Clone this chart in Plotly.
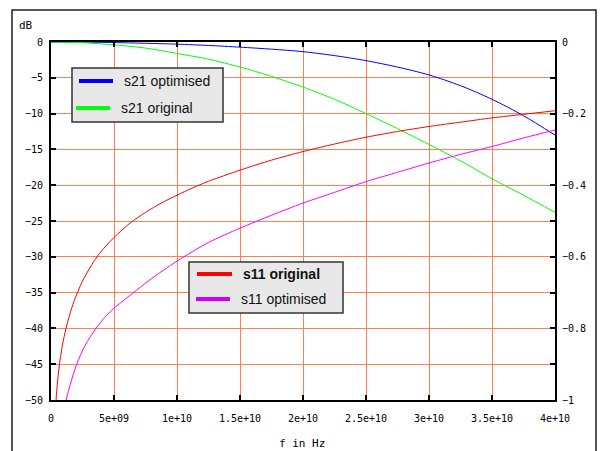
import plotly.graph_objects as go

# ---------------- data ----------------
f_s21 = [0, 2.5e9, 5e9, 7.5e9, 1e10, 1.25e10, 1.5e10, 1.75e10, 2e10, 2.25e10,
         2.5e10, 2.75e10, 3e10, 3.25e10, 3.5e10, 3.75e10, 4e10]
s21_optimised = [0, -0.02, -0.08, -0.18, -0.3, -0.48, -0.72, -1.0, -1.35, -1.9,
                 -2.6, -3.5, -4.6, -6.1, -8.0, -10.3, -13.0]
s21_original = [0, -0.1, -0.4, -0.85, -1.6, -2.4, -3.5, -4.8, -6.3, -8.0,
                -10.0, -12.1, -14.3, -16.6, -19.1, -21.4, -23.8]

f_s11_orig = [0.4e9, 0.5e9, 0.66e9, 0.9e9, 1.19e9, 1.5e9, 1.83e9, 2.5e9, 3.49e9,
              4.2e9, 5e9, 6.27e9, 7.5e9, 8.75e9, 1e10, 1.16e10, 1.25e10, 1.5e10,
              1.75e10, 2e10, 2.25e10, 2.5e10, 2.75e10, 3e10, 3.25e10, 3.5e10,
              3.75e10, 4e10]
s11_original = [-50, -47.8, -45.2, -42.4, -40, -38, -36.2, -33.4, -30.4,
                -28.8, -27.3, -25.3, -23.8, -22.5, -21.4, -20.1, -19.45, -17.9,
                -16.5, -15.3, -14.25, -13.3, -12.5, -11.8, -11.2, -10.6,
                -10.1, -9.6]

f_s11_opt = [1.2e9, 1.5e9, 2.04e9, 2.7e9, 3.57e9, 4.25e9, 5e9, 6.48e9, 7.86e9, 1e10,
             1.25e10, 1.5e10, 1.75e10, 2e10, 2.25e10, 2.5e10, 2.75e10, 3e10,
             3.25e10, 3.5e10, 3.75e10, 4e10]
s11_optimised = [-50, -48, -45, -42.4, -40, -38.5, -37.2, -35.1, -33.2, -30.6,
                 -28.0, -26.0, -24.2, -22.5, -21.0, -19.5, -18.2, -16.9,
                 -15.7, -14.6, -13.4, -12.3]

x_tickvals = [0, 5e9, 1e10, 1.5e10, 2e10, 2.5e10, 3e10, 3.5e10, 4e10]
x_ticktext = ["0", "5e+09", "1e+10", "1.5e+10", "2e+10", "2.5e+10", "3e+10", "3.5e+10", "4e+10"]

legend1_labels = ["s21 optimised", "s21 original"]
legend1_colors = ["#0000ff", "#00ff00"]
legend2_labels = ["<b>s11 original</b>", "s11 optimised"]
legend2_colors = ["#ff0000", "#cc00ff"]

# ---------------- layout constants ----------------
W_FIG, H_FIG = 600, 451
L, R, T, B = 51, 45, 42, 51
PW = W_FIG - L - R
PH = H_FIG - T - B

def px(x):
    return (x - L) / PW

def py(y):
    return (H_FIG - B - y) / PH

MONO = "DejaVu Sans Mono"
SANS = "Liberation Sans, Arial, sans-serif"

fig = go.Figure()

line_kw = dict(shape="spline", smoothing=0.8, width=1)
fig.add_trace(go.Scatter(x=f_s21, y=s21_optimised, mode="lines",
                         line=dict(color="#0000ff", **line_kw), name="s21 optimised"))
fig.add_trace(go.Scatter(x=f_s21, y=s21_original, mode="lines",
                         line=dict(color="#00ff00", **line_kw), name="s21 original"))
fig.add_trace(go.Scatter(x=f_s11_orig, y=s11_original, mode="lines",
                         line=dict(color="#ff0000", **line_kw), name="s11 original"))
fig.add_trace(go.Scatter(x=f_s11_opt, y=s11_optimised, mode="lines",
                         line=dict(color="#ff00ff", **line_kw), name="s11 optimised"))
# invisible trace to activate right axis
fig.add_trace(go.Scatter(x=[None], y=[None], yaxis="y2", showlegend=False, hoverinfo="skip"))

shapes = []
annotations = []

# outer frame
shapes.append(dict(type="rect", xref="paper", yref="paper",
                   x0=px(12), x1=px(596), y0=py(458), y1=py(10),
                   line=dict(color="#222222", width=1.5), fillcolor="rgba(0,0,0,0)", layer="below"))

def add_legend(box, labels, colors, ys, line_x):
    x0, y0, x1, y1 = box
    shapes.append(dict(type="rect", xref="paper", yref="paper",
                       x0=px(x0), x1=px(x1), y0=py(y1), y1=py(y0),
                       fillcolor="#e8e8e8", line=dict(color="#333333", width=1.5), layer="above"))
    for lab, col, yy, (lx0, lx1) in zip(labels, colors, ys, line_x):
        shapes.append(dict(type="line", xref="paper", yref="paper",
                           x0=px(lx0), x1=px(lx1), y0=py(yy), y1=py(yy),
                           line=dict(color=col, width=4), layer="above"))
        annotations.append(dict(xref="paper", yref="paper", x=px(lx1 + 9), y=py(yy),
                                text=lab, showarrow=False, xanchor="left", yanchor="middle",
                                font=dict(family=SANS, size=14, color="#111111")))

add_legend((72, 68, 223, 122), legend1_labels, legend1_colors, [81, 108],
           [(79, 113), (76, 110)])
add_legend((189, 262, 343, 313), legend2_labels, legend2_colors, [274, 299],
           [(197, 232), (196, 230)])

annotations.append(dict(xref="paper", yref="paper", x=px(26), y=py(25), text="dB",
                        showarrow=False, xanchor="center", yanchor="middle",
                        font=dict(family=MONO, size=11, color="#000")))
annotations.append(dict(xref="paper", yref="paper", x=px(302), y=py(443), text="f in Hz",
                        showarrow=False, xanchor="center", yanchor="middle",
                        font=dict(family=MONO, size=11, color="#000")))

GRID = "#ff7f50"
fig.update_layout(
    width=W_FIG, height=H_FIG,
    margin=dict(l=L, r=R, t=T, b=B, pad=0),
    paper_bgcolor="white", plot_bgcolor="white",
    showlegend=False,
    shapes=shapes, annotations=annotations,
    xaxis=dict(range=[0, 4e10], tickvals=x_tickvals, ticktext=x_ticktext,
               showgrid=True, gridcolor=GRID, gridwidth=1, zeroline=False,
               showline=True, linecolor="black", linewidth=2, mirror="ticks",
               ticks="inside", ticklen=5, tickwidth=2, tickcolor="black",
               ticklabelstandoff=8,
               tickfont=dict(family=MONO, size=10, color="#000")),
    yaxis=dict(range=[-50, 0], dtick=5, tick0=0,
               showgrid=True, gridcolor=GRID, gridwidth=1, zeroline=False,
               showline=True, linecolor="black", linewidth=2, mirror=True,
               ticks="inside", ticklen=5, tickwidth=2, tickcolor="black",
               ticklabelstandoff=4,
               tickfont=dict(family=MONO, size=10, color="#000")),
    yaxis2=dict(range=[-1, 0], dtick=0.2, tick0=0, overlaying="y", side="right",
                showgrid=False, zeroline=False, showline=False,
                ticks="inside", ticklen=5, tickwidth=2, tickcolor="black",
                minor=dict(dtick=0.1, ticks="inside", ticklen=5, tickwidth=2, tickcolor="black"),
                ticklabelstandoff=6,
                tickfont=dict(family=MONO, size=10, color="#000")),
)

fig.write_html("out.html", config={"displayModeBar": False},
               post_script="document.body.style.margin='0';document.body.style.overflow='hidden';")
